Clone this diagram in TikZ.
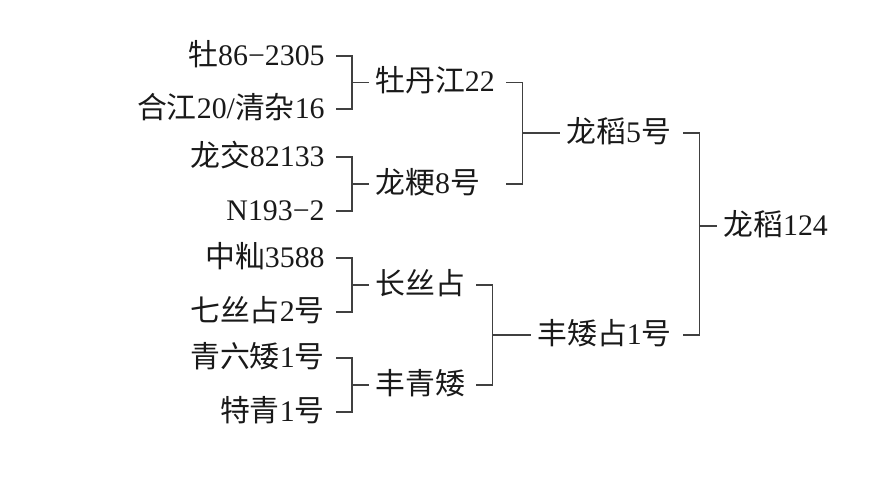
\documentclass[tikz,border=0pt]{standalone}
\usepackage{fontspec}
\setmainfont{Liberation Serif}
\newfontfamily\cjk{Noto Sans CJK SC}
\newcommand{\zh}[1]{{\cjk #1}}
\tikzset{
  cultivar/.style={inner sep=0pt, text height=10.4pt, text depth=0pt, font=\fontsize{17}{20}\selectfont, text=black!90},
  link/.style={draw=black!75, line width=0.65pt}
}
\newcommand{\parent}[4]{\node[cultivar,anchor=east] (#1) at (#2,#3) {#4};}
\newcommand{\offspring}[4]{\node[cultivar,anchor=west] (#1) at (#2,#3) {#4};}
\newcommand{\cross}[3]{\draw[link] (#1.east) ++(0.22,0) -- ++(0.32,0) |- ([xshift=-0.12cm]#3.west);
  \draw[link] (#1.east |- #2.east) ++(0.22,0) -- ++(0.32,0) |- ([xshift=-0.12cm]#3.west);}

\begin{document}
\begin{tikzpicture}
    \useasboundingbox (0,0) rectangle (17.82,9.54);
    % first generation
    \parent{mu862305}{6.5}{8.42}{\zh{牡}86−2305}
    \parent{hj20}{6.5}{7.36}{\zh{合江}20/\zh{清杂}16}
    \parent{lj82133}{6.5}{6.40}{\zh{龙交}82133}
    \parent{n1932}{6.5}{5.32}{N193−2}
    \parent{zx3588}{6.5}{4.38}{\zh{中籼}3588}
    \parent{qsz2}{6.5}{3.30}{\zh{七丝占}2\zh{号}}
    \parent{qla1}{6.5}{2.38}{\zh{青六矮}1\zh{号}}
    \parent{tq1}{6.5}{1.30}{\zh{特青}1\zh{号}}
    % second generation
    \offspring{mdj22}{7.5}{7.89}{\zh{牡丹江}22}
    \offspring{lg8}{7.5}{5.86}{\zh{龙粳}8\zh{号}}
    \offspring{csz}{7.5}{3.84}{\zh{长丝占}}
    \offspring{fqa}{7.5}{1.84}{\zh{丰青矮}}
    \cross{mu862305}{hj20}{mdj22}\cross{lj82133}{n1932}{lg8}
    \cross{zx3588}{qsz2}{csz}\cross{qla1}{tq1}{fqa}
    % third generation
    \offspring{ld5}{11.32}{6.88}{\zh{龙稻}5\zh{号}}
    \offspring{fazz1}{10.74}{2.84}{\zh{丰矮占}1\zh{号}}
    \cross{mdj22}{lg8}{ld5}\cross{csz}{fqa}{fazz1}
    % final cultivar
    \offspring{ld124}{14.46}{5.02}{\zh{龙稻}124}
    \cross{fazz1}{ld5}{ld124}
\end{tikzpicture}
\end{document}
